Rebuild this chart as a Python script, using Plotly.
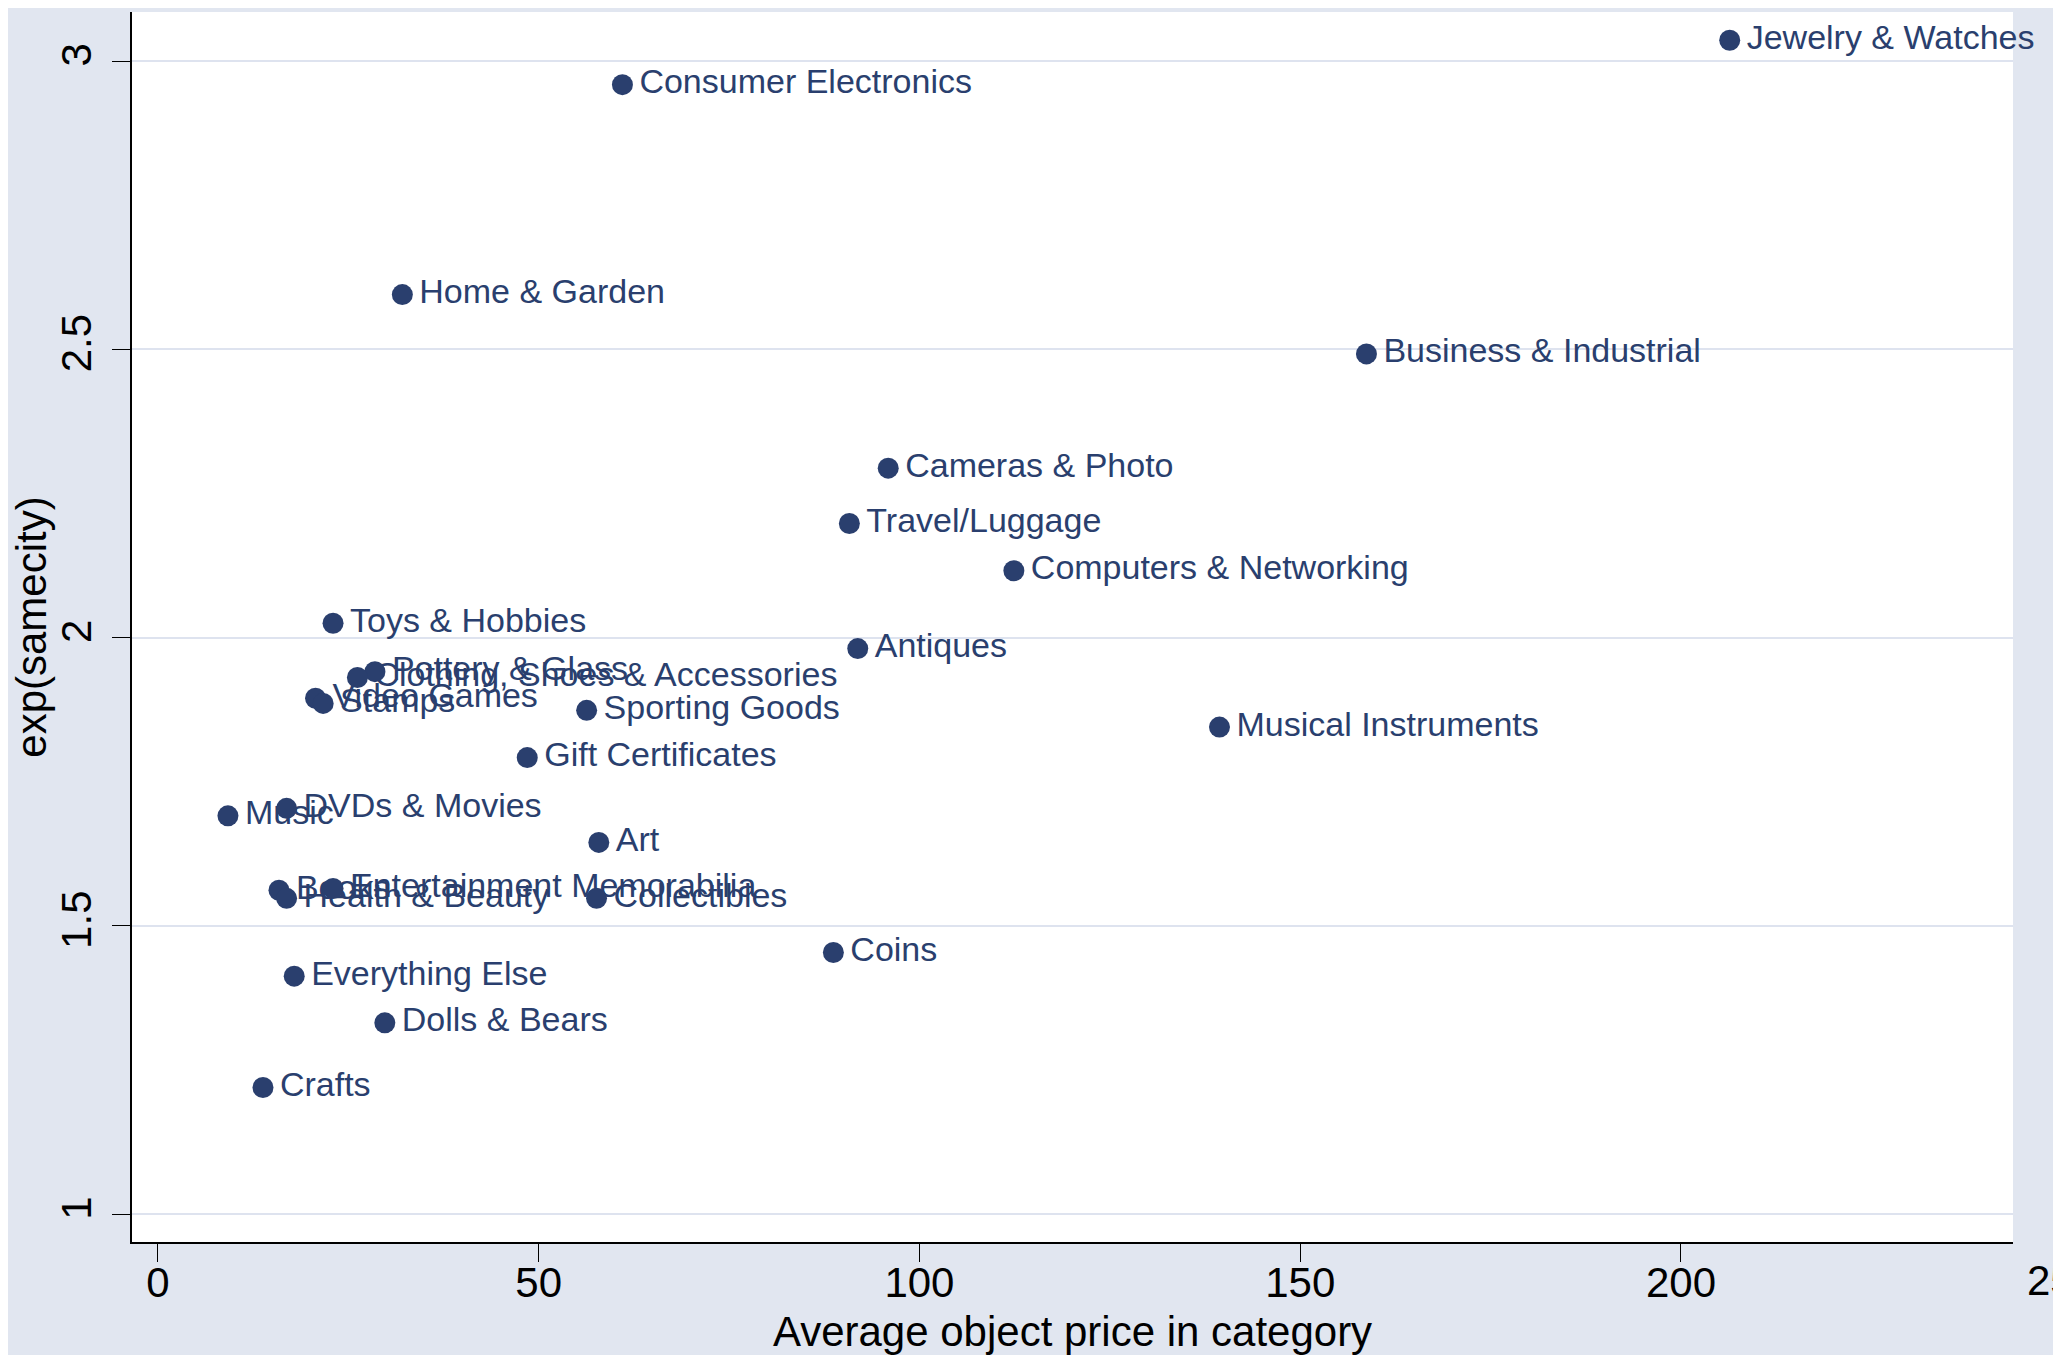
import plotly.graph_objects as go

categories = [
    "Jewelry & Watches", "Consumer Electronics", "Home & Garden", "Business & Industrial",
    "Cameras & Photo", "Travel/Luggage", "Computers & Networking", "Toys & Hobbies",
    "Antiques", "Musical Instruments", "Pottery & Glass", "Clothing, Shoes & Accessories",
    "Video Games", "Stamps", "Sporting Goods", "Gift Certificates", "DVDs & Movies",
    "Music", "Art", "Books", "Entertainment Memorabilia", "Health & Beauty",
    "Collectibles", "Coins", "Everything Else", "Dolls & Bears", "Crafts",
]
avg_price = [
    206.4, 61.0, 32.1, 158.7,
    95.9, 90.8, 112.4, 23.0,
    91.9, 139.4, 28.5, 26.2,
    20.7, 21.7, 56.3, 48.5, 16.9,
    9.2, 57.9, 15.9, 23.0, 16.9,
    57.6, 88.7, 17.9, 29.8, 13.8,
]
exp_samecity = [
    3.036, 2.959, 2.595, 2.492,
    2.294, 2.198, 2.116, 2.025,
    1.981, 1.845, 1.941, 1.931,
    1.895, 1.886, 1.874, 1.792, 1.704,
    1.691, 1.645, 1.562, 1.565, 1.548,
    1.548, 1.454, 1.413, 1.332, 1.220,
]
x_ticks = [0, 50, 100, 150, 200]
y_ticks = [1, 1.5, 2, 2.5, 3]
y_tick_labels = ["1", "1.5", "2", "2.5", "3"]

NAVY = "#2A3F6E"
BG = "#E1E6F0"
GRID = "#DEE3EF"
FONT = "Liberation Sans, Arial, sans-serif"

X_RANGE = [-3.4, 243.6]
Y_RANGE = [0.952, 3.085]

fig = go.Figure()
fig.add_trace(go.Scatter(
    x=avg_price, y=exp_samecity, text=categories,
    mode="markers+text", textposition="middle right",
    texttemplate="\u200a%{text}",
    marker=dict(color=NAVY, size=21, line=dict(width=0)),
    textfont=dict(family=FONT, size=34, color=NAVY),
    cliponaxis=False, showlegend=False, hoverinfo="x+y+text",
))

# partially visible 250 tick just beyond the plot region
extra_tick = 250
span = X_RANGE[1] - X_RANGE[0]
extra_pos = (extra_tick - X_RANGE[0]) / span
fig.add_annotation(x=extra_pos, xref="paper", y=0, yref="paper", yanchor="top",
                   xanchor="center", yshift=-13, text=str(extra_tick), showarrow=False,
                   font=dict(family=FONT, size=42, color="black"))
fig.add_shape(type="line", xref="paper", yref="paper",
              x0=extra_pos, x1=extra_pos,
              y0=0, y1=-0.0146, line=dict(color="black", width=1))

fig.update_layout(
    width=2053, height=1347,
    paper_bgcolor=BG, plot_bgcolor="white",
    margin=dict(l=124, r=48, t=4, b=113, autoexpand=False),
    font=dict(family=FONT, color="black"),
    xaxis=dict(
        range=X_RANGE, tickvals=x_ticks, ticks="outside", ticklen=18, tickwidth=1,
        tickcolor="black", showgrid=False, zeroline=False, automargin=False,
        ticklabelstandoff=-15,
        showline=True, linecolor="black", linewidth=2,
        tickfont=dict(size=42, family=FONT, color="black"),
        title=dict(text="Average object price in category",
                   font=dict(size=42, family=FONT, color="black"), standoff=19),
    ),
    yaxis=dict(
        range=Y_RANGE, tickvals=y_ticks, ticktext=y_tick_labels, tickangle=-90,
        ticks="outside", ticklen=18, tickwidth=1, tickcolor="black",
        showgrid=True, gridcolor=GRID, gridwidth=2, zeroline=False, automargin=False,
        ticklabelstandoff=4,
        showline=True, linecolor="black", linewidth=2,
        tickfont=dict(size=42, family=FONT, color="black"),
        title=dict(text="exp(samecity)",
                   font=dict(size=42, family=FONT, color="black"), standoff=4),
    ),
)

fig.write_html("out.html")
